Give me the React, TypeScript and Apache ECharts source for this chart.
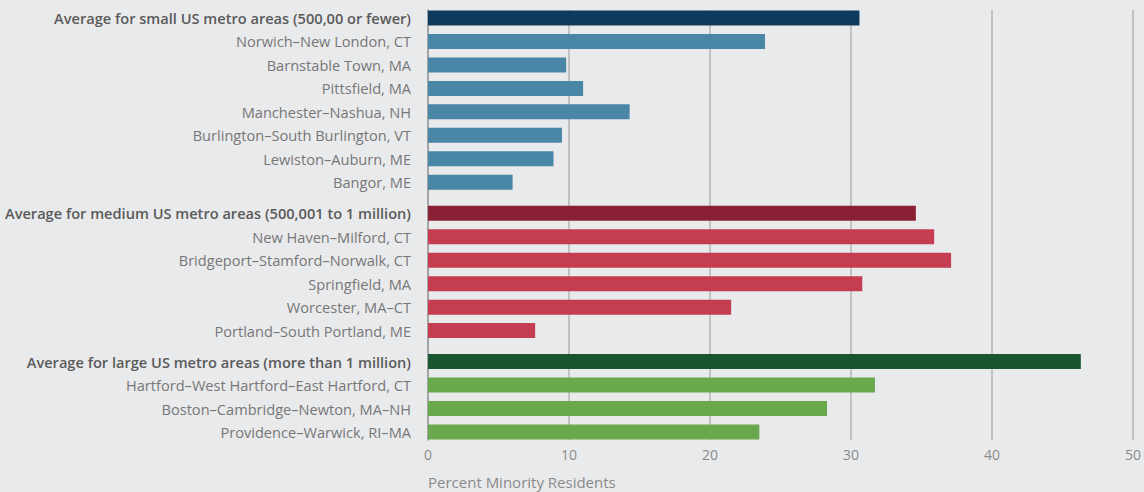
import React, { useEffect, useRef } from "react";
import * as echarts from "echarts";

const categories = [
  "Average for small US metro areas (500,00 or fewer)",
  "Norwich–New London, CT",
  "Barnstable Town, MA",
  "Pittsfield, MA",
  "Manchester–Nashua, NH",
  "Burlington–South Burlington, VT",
  "Lewiston–Auburn, ME",
  "Bangor, ME",
  "Average for medium US metro areas (500,001 to 1 million)",
  "New Haven–Milford, CT",
  "Bridgeport–Stamford–Norwalk, CT",
  "Springfield, MA",
  "Worcester, MA–CT",
  "Portland–South Portland, ME",
  "Average for large US metro areas (more than 1 million)",
  "Hartford–West Hartford–East Hartford, CT",
  "Boston–Cambridge–Newton, MA–NH",
  "Providence–Warwick, RI–MA",
];

const values = [30.6, 23.9, 9.8, 11.0, 14.3, 9.5, 8.9, 6.0, 34.6, 35.9, 37.1, 30.8, 21.5, 7.6, 46.3, 31.7, 28.3, 23.5];

const groupOf = [0, 0, 0, 0, 0, 0, 0, 0, 1, 1, 1, 1, 1, 1, 2, 2, 2, 2];
const isAverage = [1, 0, 0, 0, 0, 0, 0, 0, 1, 0, 0, 0, 0, 0, 1, 0, 0, 0];

const avgColors = ["#0f3a5c", "#8a2035", "#1a5532"];
const barColors = ["#4a86a6", "#c53d50", "#6aa84e"];

const xTicks = [0, 10, 20, 30, 40, 50];
const xAxisName = "Percent Minority Residents";

const GROUP_GAP = 0.32;

export default function App() {
  const ref = useRef<HTMLDivElement>(null);
  useEffect(() => {
    document.body.style.margin = "0";
    const chart = echarts.init(ref.current!, null, { renderer: "svg" });
    const data = values.map((v, i) => [v, i + groupOf[i] * GROUP_GAP, i]);
    const font = "'Open Sans', 'Noto Sans', sans-serif";
    chart.setOption({
      animation: false,
      backgroundColor: "#e9eaec",
      grid: { left: 428, right: 8, top: 10, bottom: 52, containLabel: false },
      xAxis: {
        type: "value",
        min: xTicks[0],
        max: xTicks[xTicks.length - 1],
        interval: 10,
        axisLine: { show: false },
        axisTick: { show: false },
        axisLabel: { color: "#8a8a8a", fontSize: 14, fontFamily: font, margin: 7 },
        splitLine: { show: true, lineStyle: { color: "#b4b4b4", width: 1.5 } },
      },
      yAxis: {
        type: "value",
        inverse: true,
        min: -0.34,
        max: 17.64 + 0.34,
        axisLine: { show: true, onZero: false, lineStyle: { color: "#9a9a9a", width: 1.5 } },
        axisTick: { show: false },
        axisLabel: { show: false },
        splitLine: { show: false },
      },
      graphic: [
        {
          type: "text",
          left: 428,
          top: 474,
          style: { text: xAxisName, fill: "#8a8a8a", font: `15px ${font}` },
        },
      ],
      series: [
        {
          type: "custom",
          clip: false,
          encode: { x: 0, y: 1 },
          data,
          renderItem: (params: any, api: any) => {
            const v = api.value(0);
            const p = api.value(1);
            const idx = api.value(2);
            const start = api.coord([0, p]);
            const end = api.coord([v, p]);
            const h = 15;
            const avg = isAverage[idx] === 1;
            const color = avg ? avgColors[groupOf[idx]] : barColors[groupOf[idx]];
            return {
              type: "group",
              children: [
                {
                  type: "rect",
                  shape: { x: start[0], y: start[1] - h / 2, width: end[0] - start[0], height: h },
                  style: { fill: color },
                },
                {
                  type: "text",
                  x: start[0] - 17,
                  y: start[1],
                  style: {
                    text: categories[idx],
                    align: "right",
                    verticalAlign: "middle",
                    fill: avg ? "#5a5a5a" : "#777777",
                    fontSize: 14.6,
                    fontFamily: font,
                    fontWeight: avg ? 600 : 400,
                  },
                },
              ],
            };
          },
        },
      ],
    });
    return () => chart.dispose();
  }, []);
  return <div ref={ref} style={{ width: 1144, height: 492 }} />;
}
